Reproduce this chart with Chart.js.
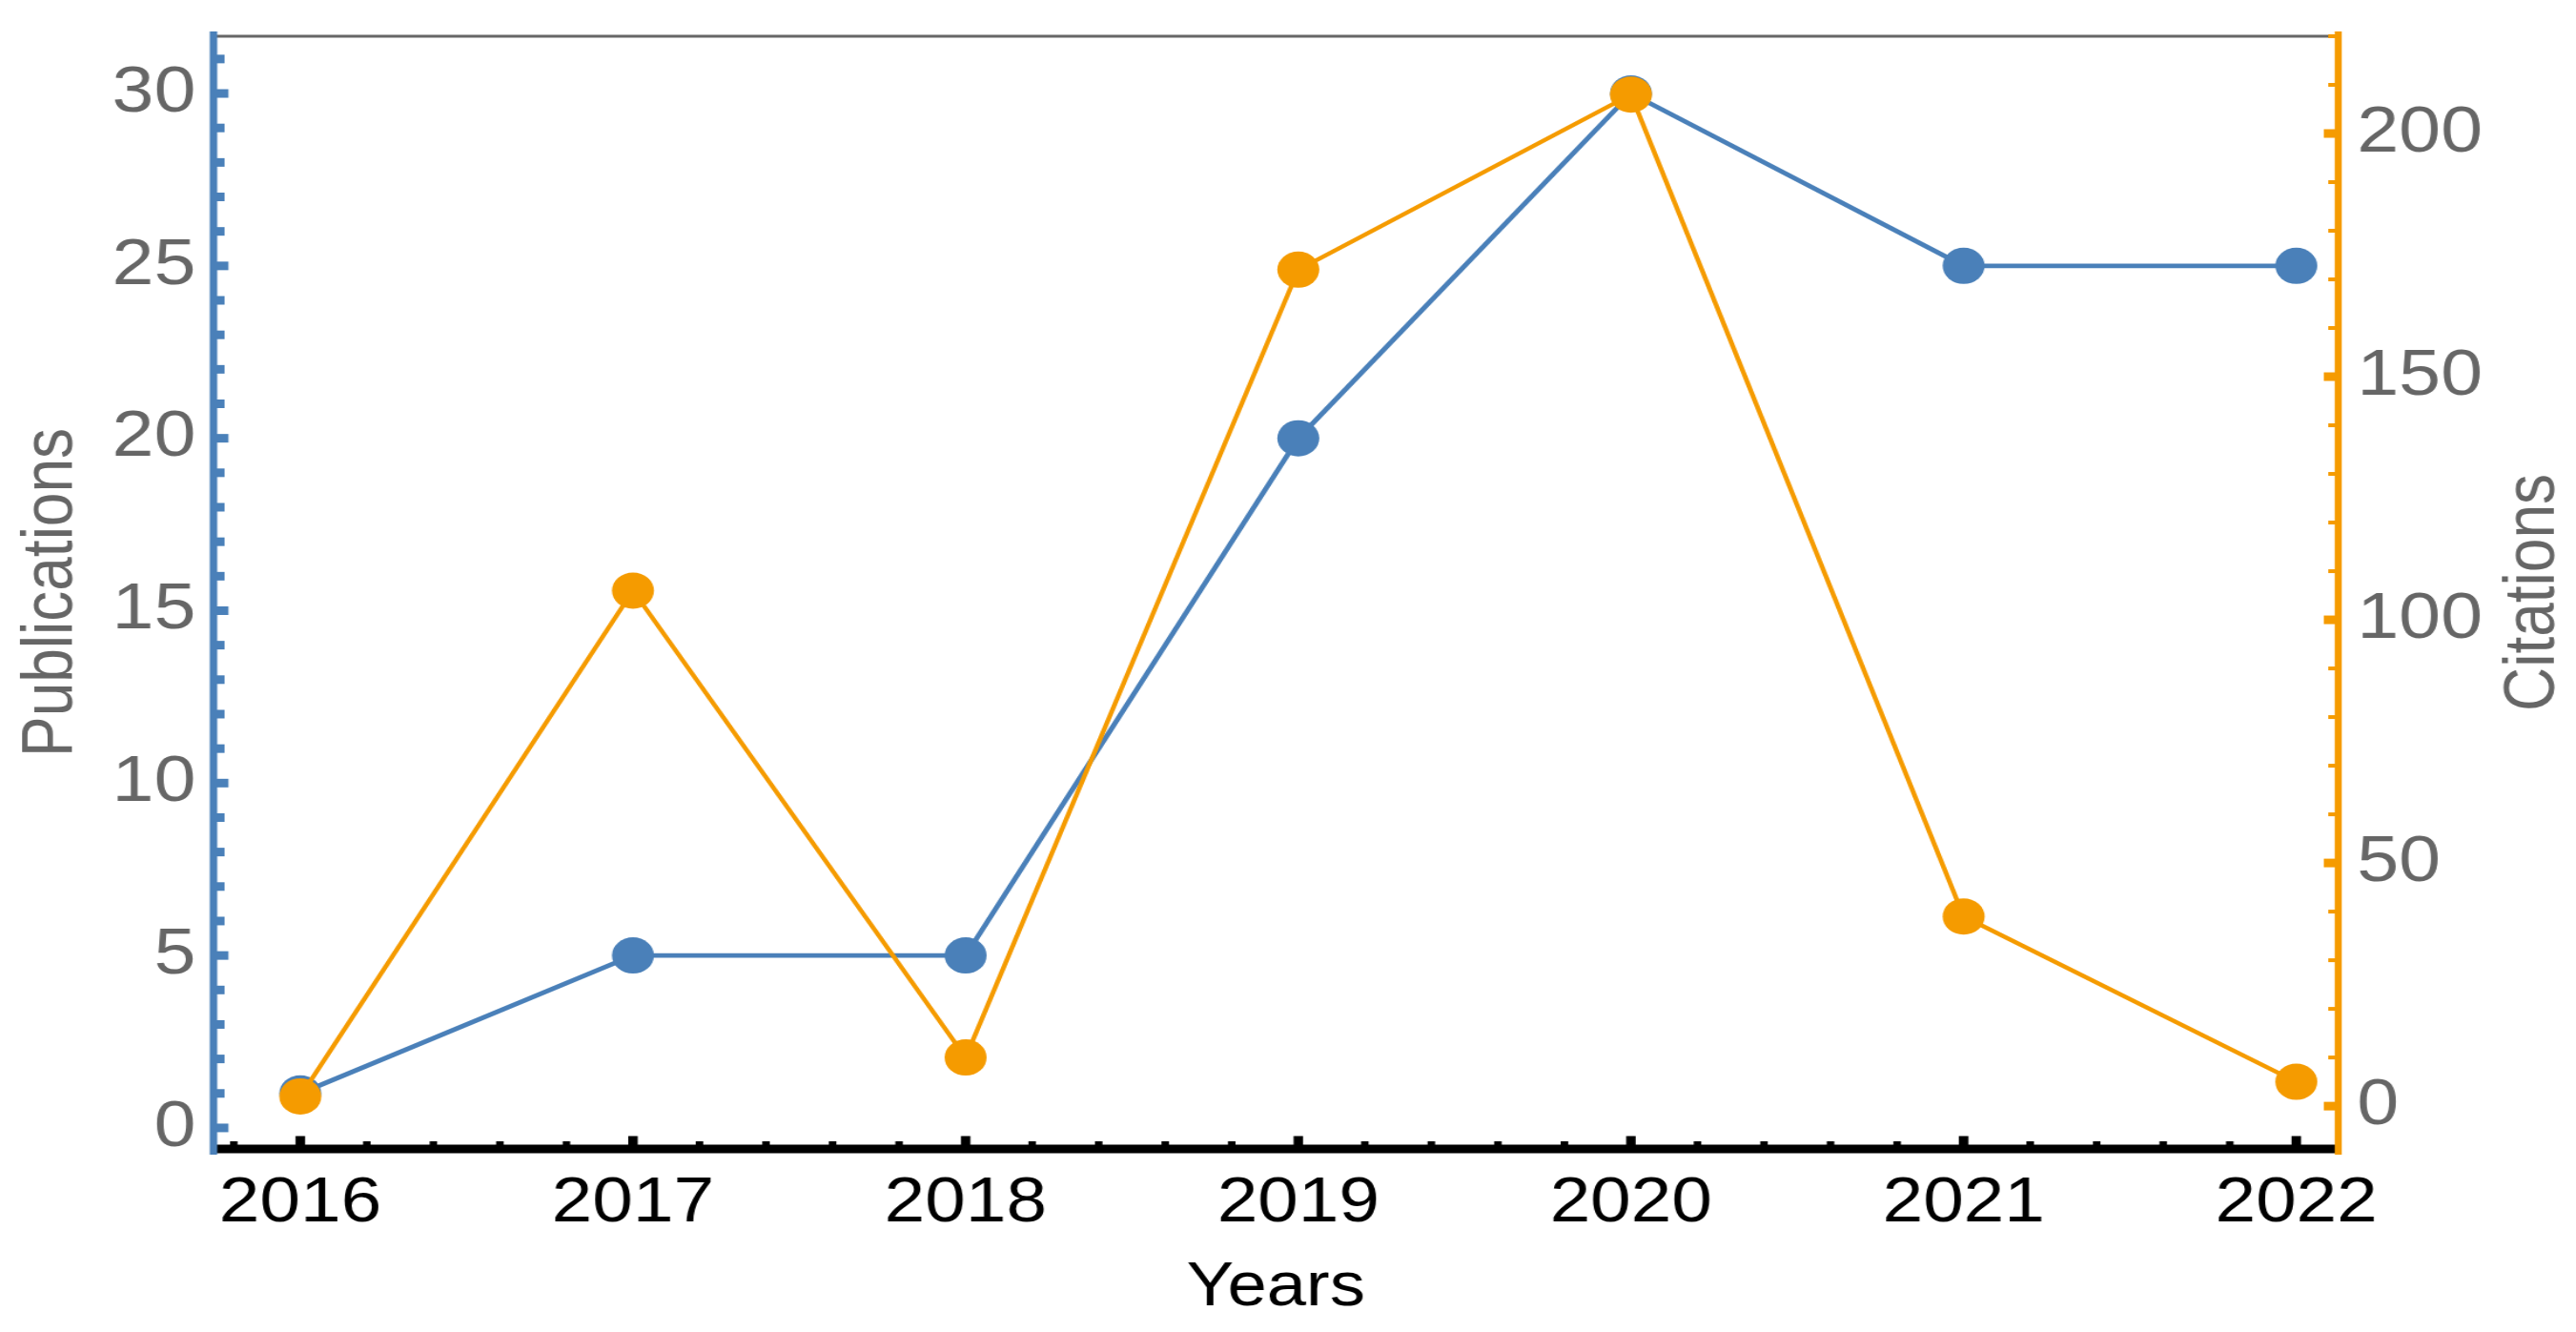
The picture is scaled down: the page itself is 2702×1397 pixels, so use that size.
<!DOCTYPE html>
<html>
<head>
<meta charset="utf-8">
<script src="https://cdn.jsdelivr.net/npm/chart.js@4.4.1/dist/chart.umd.min.js"></script>
<style>
  html, body { margin: 0; padding: 0; background: #fff; overflow: hidden; }
  /* the original figure is stretched sideways, so we draw narrower and scale */
  #myChart { transform: scaleX(1.16015); transform-origin: 0 0; }
</style>
</head>
<body>
<canvas id="myChart" width="2329" height="1397"></canvas>
<script>
var years = [2016, 2017, 2018, 2019, 2020, 2021, 2022];
var publications = [1, 5, 5, 20, 30, 25, 25];
var citations = [2, 106, 10, 172, 208, 39, 5];

var pubTicks = [0, 5, 10, 15, 20, 25, 30];
var citeTicks = [0, 50, 100, 150, 200];

var blue = '#4a80b9';
var orange = '#f59b00';
var grey = '#666666';
var fam = '"Liberation Sans", Arial, sans-serif';
var citeTitle = 'Citations';

// Mathematica style frame: thick coloured axes, ticks pointing inwards
var axesPlugin = {
  id: 'mmaAxes',
  beforeDatasetsDraw: function (chart) {
    var ctx = chart.ctx, a = chart.chartArea;
    var sx = chart.scales.x, yl = chart.scales.y, yr = chart.scales.y1;
    var i, v, p, major;
    ctx.save();

    // top line
    ctx.fillStyle = grey;
    ctx.fillRect(a.left, a.top - 1.5, a.right - a.left, 3);

    // bottom axis
    ctx.fillStyle = '#000';
    ctx.fillRect(a.left, a.bottom - 4.5, a.right - a.left, 9);
    for (i = Math.ceil(sx.min * 5); i <= Math.floor(sx.max * 5); i++) {
      p = sx.getPixelForValue(i / 5);
      major = i % 5 === 0;
      if (major) ctx.fillRect(p - 4.3, a.bottom - 13.5, 8.6, 13);
      else ctx.fillRect(p - 3.4, a.bottom - 8, 6.8, 8);
    }

    // left axis
    ctx.fillStyle = blue;
    ctx.fillRect(a.left - 3.4, a.top - 5, 6.8, a.bottom - a.top + 11);
    for (v = Math.ceil(yl.min); v <= yl.max; v++) {
      p = yl.getPixelForValue(v);
      major = v % 5 === 0;
      ctx.fillRect(a.left, p - 4.5, major ? 13.5 : 10, 9);
    }

    // right axis
    ctx.fillStyle = orange;
    ctx.fillRect(a.right - 3.2, a.top - 5, 6.4, a.bottom - a.top + 11);
    for (v = Math.ceil(yr.min / 10) * 10; v <= yr.max; v += 10) {
      p = yr.getPixelForValue(v);
      major = v % 50 === 0;
      if (major) ctx.fillRect(a.right - 13, p - 4.5, 13, 9);
      else ctx.fillRect(a.right - 9, p - 2, 9, 4);
    }
    ctx.restore();
  },
  afterDraw: function (chart) {
    // right title reads bottom to top like the left one
    var ctx = chart.ctx, a = chart.chartArea, yr = chart.scales.y1;
    ctx.save();
    ctx.translate(yr.right - 38, (a.top + a.bottom) / 2);
    ctx.rotate(-Math.PI / 2);
    ctx.font = '64px ' + fam;
    ctx.fillStyle = grey;
    ctx.textAlign = 'center';
    ctx.textBaseline = 'middle';
    ctx.fillText(citeTitle, 0, 0);
    ctx.restore();
  }
};

function points(vals) {
  return years.map(function (y, i) { return { x: y, y: vals[i] }; });
}

function fixedTicks(list) {
  return function (scale) {
    scale.ticks = list.map(function (v) { return { value: v }; });
  };
}

// keep the plot box where we put it, labels may hang over
function noPad(scale) {
  scale.paddingTop = 0;
  scale.paddingBottom = 0;
  scale.paddingLeft = 0;
  scale.paddingRight = 0;
}

var ctx = document.getElementById('myChart');
new Chart(ctx, {
  type: 'line',
  data: {
    datasets: [{
      label: 'Citations',
      data: points(citations),
      yAxisID: 'y1',
      borderColor: orange,
      backgroundColor: orange,
      pointBackgroundColor: orange,
      borderWidth: 4.3,
      pointRadius: 19,
      pointBorderWidth: 0,
      order: 1
    }, {
      label: 'Publications',
      data: points(publications),
      yAxisID: 'y',
      borderColor: blue,
      backgroundColor: blue,
      pointBackgroundColor: blue,
      borderWidth: 4.8,
      pointRadius: 19,
      pointBorderWidth: 0,
      order: 2
    }]
  },
  options: {
    responsive: false,
    animation: false,
    devicePixelRatio: 1,
    layout: { padding: { top: 38, left: 0, right: 0, bottom: 0 } },
    plugins: { legend: { display: false }, tooltip: { enabled: false } },
    scales: {
      x: {
        type: 'linear',
        min: 2015.739,
        max: 2022.126,
        grid: { display: false },
        border: { display: false },
        afterBuildTicks: fixedTicks(years),
        ticks: {
          color: '#000',
          font: { family: fam, size: 66 },
          padding: 10,
          autoSkip: false,
          maxRotation: 0,
          callback: function (v) { return String(v); }
        },
        title: {
          display: true, text: 'Years', color: '#000',
          font: { family: fam, size: 64 },
          padding: { top: 0, bottom: 7 }
        },
        afterFit: function (s) { noPad(s); s.height = 192; }
      },
      y: {
        type: 'linear',
        position: 'left',
        min: -0.61,
        max: 31.66,
        grid: { display: false },
        border: { display: false },
        afterBuildTicks: fixedTicks(pubTicks),
        ticks: {
          color: grey,
          font: { family: fam, size: 68 },
          padding: 8,
          callback: function (v) { return String(v); }
        },
        title: {
          display: true, text: 'Publications', color: grey,
          font: { family: fam, size: 64 },
          padding: { top: 9, bottom: 0 }
        },
        afterFit: function (s) { noPad(s); s.width = 193; }
      },
      y1: {
        type: 'linear',
        position: 'right',
        min: -8.8,
        max: 220,
        grid: { display: false },
        border: { display: false },
        afterBuildTicks: fixedTicks(citeTicks),
        ticks: {
          color: grey,
          font: { family: fam, size: 68 },
          padding: 9,
          callback: function (v) { return String(v); }
        },
        title: { display: false },
        afterFit: function (s) { noPad(s); s.width = 215; }
      }
    }
  },
  plugins: [axesPlugin]
});
</script>
</body>
</html>
